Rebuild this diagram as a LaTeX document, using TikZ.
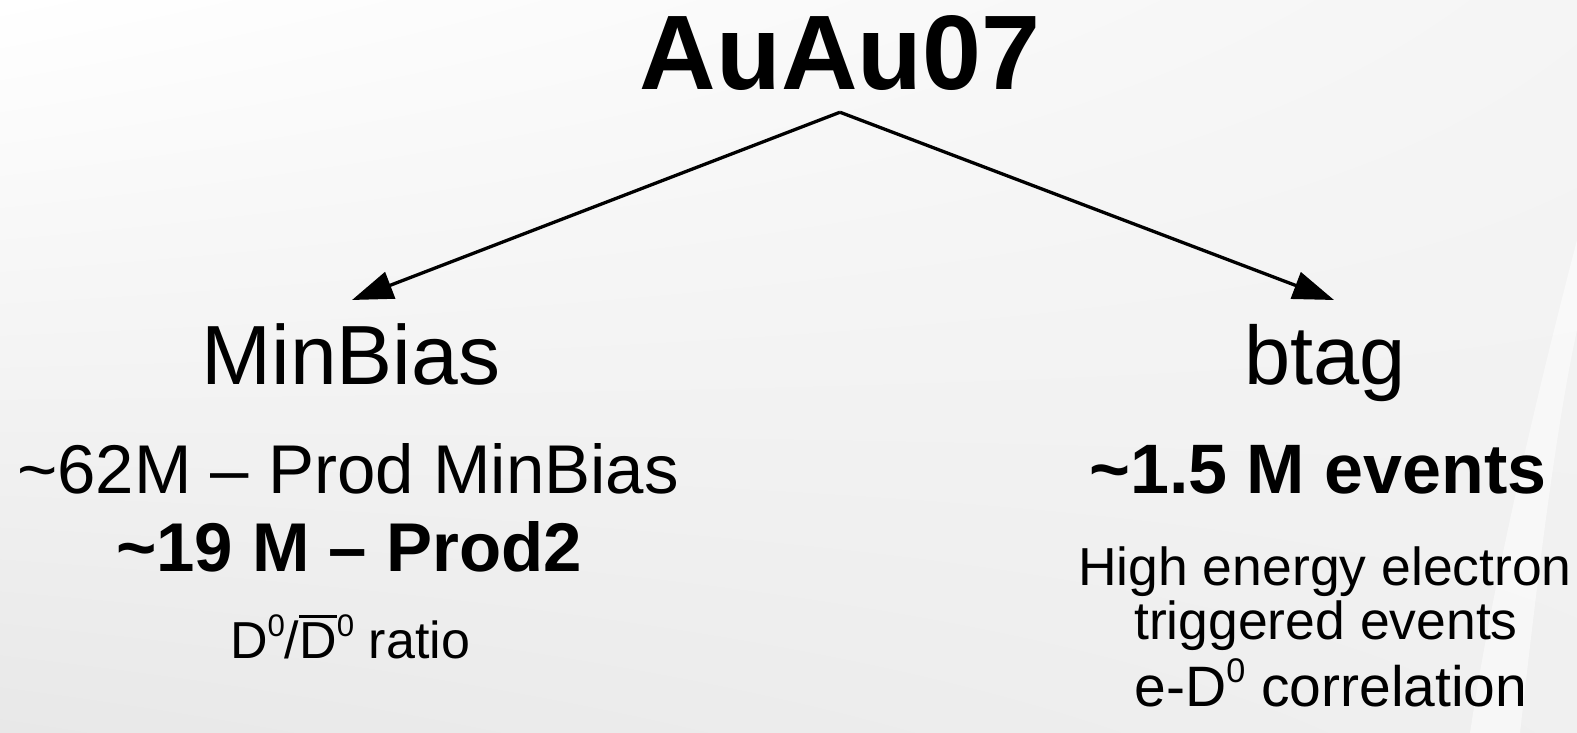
\documentclass[tikz,border=0pt]{standalone}
\usepackage{fontspec}
\setmainfont{Liberation Sans}
\usetikzlibrary{arrows.meta,shadings}
\newcommand\myobar[1]{{\setbox0\hbox{#1}\rlap{\rule[\dimexpr\ht0+0.09em\relax]{\wd0}{0.05em}}#1}}
\newcommand\mysup[1]{\raisebox{0.42em}{\scalebox{0.6}{#1}}}
\tikzset{
  txt/.style={anchor=base, inner sep=0pt, text=black},
  arr/.style={line width=3.3pt, -{Triangle[length=41pt,width=28pt]}},
}
\begin{document}
\begin{tikzpicture}[x=1pt,y=-1pt]
\useasboundingbox (0,0) rectangle (1577,733);
\shade[upper left=white, upper right=black!4, lower left=black!9, lower right=black!6] (0,0) rectangle (1577,733);
\fill[white, opacity=0.5] (1577,240) .. controls (1530,420) and (1490,600) .. (1470,733) -- (1520,733) .. controls (1535,600) and (1555,430) .. (1577,330) -- cycle;
% title
\node[txt, font=\bfseries\fontsize{106}{110}\selectfont, inner ysep=21pt] (title) at (840,90) {AuAu07};
% left branch
\node[txt, font=\fontsize{84}{90}\selectfont] (minbias) at (351,384) {MinBias};
\node[txt, font=\fontsize{69}{74}\selectfont] (l1) at (348,493) {\textasciitilde 62M -- Prod MinBias};
\node[txt, font=\bfseries\fontsize{69}{74}\selectfont] (l2) at (349,571) {\textasciitilde 19 M -- Prod2};
\node[txt, font=\fontsize{52}{58}\selectfont] (l3) at (350,658) {D\mysup{0}/\myobar{D}\mysup{0} ratio};
% right branch
\node[txt, font=\fontsize{83}{90}\selectfont] (btag) at (1325,384) {btag};
\node[txt, font=\bfseries\fontsize{70}{74}\selectfont] (r1) at (1318,493) {\textasciitilde 1.5 M events};
\node[txt, font=\fontsize{53.5}{60}\selectfont] (r2) at (1325,585) {High energy electron};
\node[txt, font=\fontsize{53.5}{60}\selectfont] (r3) at (1326,639) {triggered events};
\node[txt, font=\fontsize{57}{60}\selectfont] (r4) at (1331,706) {e-D\mysup{0} correlation};
% arrows
\coordinate (lt) at (352,300);
\coordinate (rt) at (1334,300);
\draw[arr] (title.south) -- (lt);
\draw[arr] (title.south) -- (rt);
\end{tikzpicture}
\end{document}
